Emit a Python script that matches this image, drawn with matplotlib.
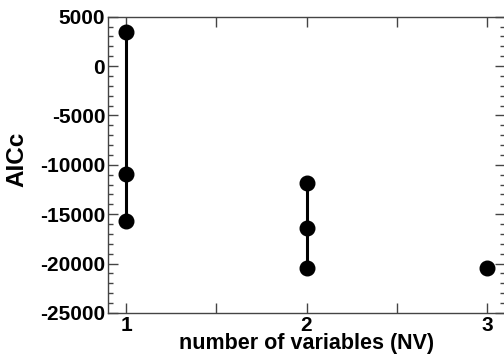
import matplotlib
matplotlib.use("Agg")
import matplotlib.pyplot as plt
from matplotlib.ticker import MultipleLocator, FixedLocator

nv_groups = [1, 2, 3]
aicc_values = [
    [3400, -10950, -15650],
    [-11850, -16400, -20400],
    [-20450],
]
xtick_positions = [1, 1.5, 2, 2.5, 3]
xtick_labels = ["1", "", "2", "", "3"]

plt.rcParams['font.family'] = ['Liberation Sans', 'DejaVu Sans']
plt.rcParams['font.weight'] = 'bold'
plt.rcParams['axes.unicode_minus'] = False

fig = plt.figure(figsize=(5.04, 3.58), dpi=100)
ax = fig.add_axes([0.2143, 0.1257, 0.7877, 0.8277])

for nv, vals in zip(nv_groups, aicc_values):
    ax.plot([nv] * len(vals), vals, color='black', lw=2.2, marker='o',
            markersize=10.5, solid_capstyle='butt')

ax.set_xlim(0.9, 3.1)
ax.set_ylim(-25000, 5000)
ax.xaxis.set_major_locator(FixedLocator(xtick_positions))
ax.set_xticklabels(xtick_labels)
ax.yaxis.set_major_locator(MultipleLocator(5000))
ax.yaxis.set_minor_locator(MultipleLocator(1000))

ax.tick_params(axis='both', which='major', direction='in', length=7, width=1,
               color='#444444', top=True, right=True, labelsize=15, pad=2)
ax.tick_params(axis='y', which='minor', direction='in', length=3.5, width=1,
               color='#444444', right=True, left=True)
for lab in ax.get_xticklabels() + ax.get_yticklabels():
    lab.set_fontweight('bold')
for s in ax.spines.values():
    s.set_color('#444444')
    s.set_linewidth(1)

ax.set_xlabel('number of variables (NV)', fontsize=15.5, fontweight='bold', labelpad=-1)
ax.set_ylabel('AICc', fontsize=17.5, fontweight='bold')
ax.yaxis.set_label_coords(-0.2, 0.517)

fig.savefig('out.png', dpi=100)
